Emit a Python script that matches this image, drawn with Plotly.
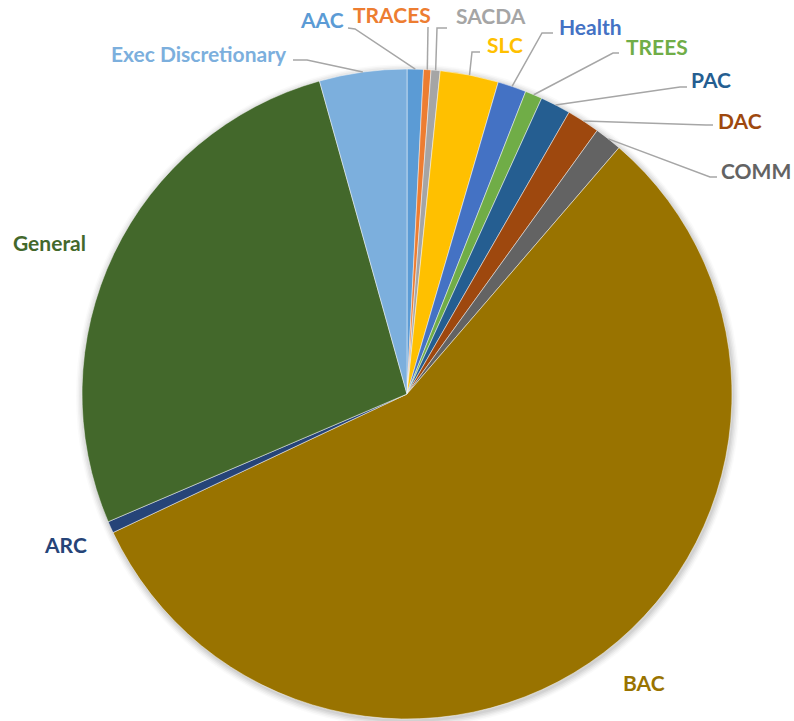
import math
import plotly.graph_objects as go

# ---- data (percent shares) ----
labels = ["AAC", "TRACES", "SACDA", "SLC", "Health", "TREES", "PAC", "DAC",
          "COMM", "BAC", "ARC", "General", "Exec Discretionary"]
values = [0.81, 0.37, 0.45, 2.90, 1.42, 0.85, 1.51, 1.64,
          1.36, 56.68, 0.58, 27.09, 4.34]
colors = ["#5B9BD5", "#ED7D31", "#A5A5A5", "#FFC000", "#4472C4", "#70AD47",
          "#255E91", "#9E480E", "#636363", "#997300", "#264478", "#43682B",
          "#7CAFDD"]

# ---- layout (pixels) ----
W, H = 794, 721
CX, CY, R = 407, 394, 325

# label placement: text anchor x, y, xanchor, leader elbow, leader end (None = no leader)
label_layout = {
    "AAC":    dict(x=346, y=20, xa="right", elbow=(355, 29), end=(348, 28)),
    "TRACES": dict(x=433, y=15, xa="right", elbow=(428, 27), end=(428, 27)),
    "SACDA":  dict(x=454, y=16, xa="left", elbow=(437, 28), end=(447, 28)),
    "SLC":    dict(x=485, y=45, xa="left", elbow=(472, 52), end=(480, 52)),
    "Health": dict(x=557, y=27, xa="left", elbow=(542, 33), end=(553, 33)),
    "TREES":  dict(x=624, y=47, xa="left", elbow=(613, 53), end=(619, 53)),
    "PAC":    dict(x=689, y=80, xa="left", elbow=(680, 87), end=(687, 87)),
    "DAC":    dict(x=716, y=120, xa="left", elbow=(706, 125), end=(713, 125)),
    "COMM":   dict(x=719, y=170, xa="left", elbow=(710, 177), end=(717, 177)),
    "BAC":    dict(x=644, y=682, xa="center", elbow=None, end=None),
    "ARC":    dict(x=65, y=544, xa="center", elbow=None, end=None),
    "General": dict(x=49, y=242, xa="center", elbow=None, end=None),
    "Exec Discretionary": dict(x=289, y=54, xa="right", elbow=(307, 60), end=(293, 60)),
}


def px(x):
    return x / W


def py(y):
    return 1 - y / H


fig = go.Figure()
fig.add_trace(go.Pie(
    labels=labels, values=values, sort=False, direction="clockwise", rotation=0,
    marker=dict(colors=colors, line=dict(color="rgba(255,255,255,0.6)", width=0.8)),
    textinfo="none", hoverinfo="label+percent", showlegend=False,
    domain=dict(x=[px(CX - R), px(CX + R)], y=[py(CY + R), py(CY - R)]),
))

shapes = []
# soft shadow around the pie
for i, op in enumerate([0.05, 0.045, 0.04, 0.03, 0.02]):
    rr = R + 1 + i * 1.5
    shapes.append(dict(type="circle", xref="paper", yref="paper", layer="below",
                       x0=px(CX - rr + 1), x1=px(CX + rr + 1),
                       y0=py(CY + rr + 2), y1=py(CY - rr + 2),
                       fillcolor="rgba(0,0,0,%.3f)" % op, line=dict(width=0)))

annotations = []
total = sum(values)
cum = 0.0
for lab, val, col in zip(labels, values, colors):
    mid = math.radians(360.0 * (cum + val / 2) / total)
    cum += val
    L = label_layout[lab]
    if L["elbow"] is not None:
        sx = CX + R * math.sin(mid)
        sy = CY - R * math.cos(mid)
        ex, ey = L["elbow"]
        tx, ty = L["end"]
        path = "M %f %f L %f %f L %f %f" % (px(sx), py(sy), px(ex), py(ey), px(tx), py(ty))
        shapes.append(dict(type="path", xref="paper", yref="paper", path=path,
                           line=dict(color="#A6A6A6", width=1.5)))
    annotations.append(dict(
        x=px(L["x"]), y=py(L["y"]), xref="paper", yref="paper",
        xanchor=L["xa"], yanchor="middle", showarrow=False,
        text="<b>%s</b>" % lab,
        font=dict(family="Lato, 'Open Sans', sans-serif", size=21, color=col),
    ))

fig.update_layout(
    width=W, height=H, margin=dict(l=0, r=0, t=0, b=0),
    paper_bgcolor="white", plot_bgcolor="white",
    shapes=shapes, annotations=annotations,
)

fig.write_html(
    "out.html",
    config={"displayModeBar": False},
    post_script="document.body.style.margin='0';document.body.style.overflow='hidden';",
)
